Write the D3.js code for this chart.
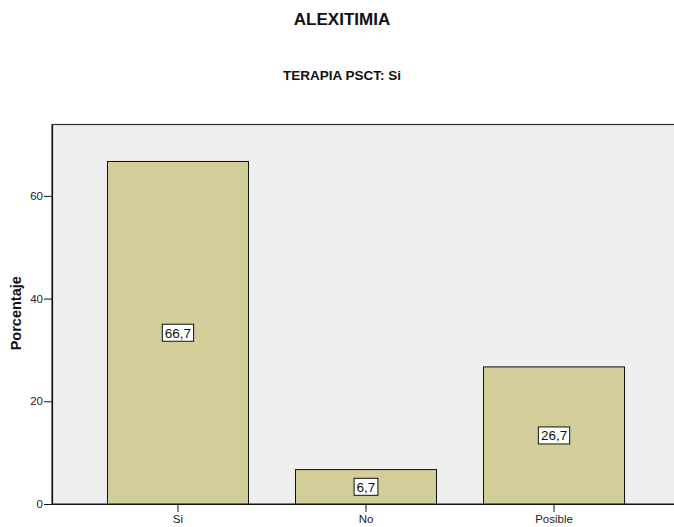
<!DOCTYPE html>
<html>
<head>
<meta charset="utf-8">
<script src="https://cdn.jsdelivr.net/npm/d3@7"></script>
<style>
  html, body { margin: 0; padding: 0; background: #fff; }
  svg { display: block; font-family: "Liberation Sans", Arial, sans-serif; }
</style>
</head>
<body>
<svg id="chart" width="674" height="527"></svg>
<script>
// Frequencies of ALEXITIMIA for patients with TERAPIA PSCT = Si
const categories = ["Si", "No", "Posible"];
const percentages = [66.7, 6.7, 26.7];
const valueLabels = ["66,7", "6,7", "26,7"];
const yTicks = [0, 20, 40, 60];

const svg = d3.select("#chart");
const plot = { left: 52, right: 680, top: 124.5, bottom: 504 };

const x = d3.scaleBand()
  .domain(categories)
  .range([plot.left, plot.right])
  .paddingInner(0.25)
  .paddingOuter(0.295);

const y = d3.scaleLinear()
  .domain([0, 73.9])
  .range([plot.bottom, plot.top]);

// Plot background and frame
svg.append("rect")
  .attr("x", plot.left).attr("y", plot.top)
  .attr("width", plot.right - plot.left).attr("height", plot.bottom - plot.top)
  .attr("fill", "#efefef")
  .attr("stroke", "#333").attr("stroke-width", 1.2);

// Bars
svg.append("g").selectAll("rect")
  .data(categories)
  .join("rect")
  .attr("x", d => x(d))
  .attr("y", (d, i) => y(percentages[i]))
  .attr("width", x.bandwidth())
  .attr("height", (d, i) => y(0) - y(percentages[i]))
  .attr("fill", "#d3ce99")
  .attr("stroke", "#111")
  .attr("stroke-width", 1);

// Y axis
const yAxis = svg.append("g")
  .attr("transform", `translate(${plot.left},0)`)
  .call(d3.axisLeft(y).tickValues(yTicks).tickSize(8).tickPadding(1).tickSizeOuter(0));
yAxis.select(".domain").attr("stroke", "#111").attr("stroke-width", 1.2);
yAxis.selectAll(".tick line").attr("stroke", "#111");
yAxis.selectAll(".tick text")
  .attr("font-size", 11.5).attr("fill", "#222")
  .attr("font-family", "Liberation Sans, Arial, sans-serif");

// X axis
const xAxis = svg.append("g")
  .attr("transform", `translate(0,${plot.bottom})`)
  .call(d3.axisBottom(x).tickSize(8).tickPadding(3).tickSizeOuter(0));
xAxis.select(".domain").attr("stroke", "#111").attr("stroke-width", 1.2);
xAxis.selectAll(".tick line").attr("stroke", "#111");
xAxis.selectAll(".tick text")
  .attr("font-size", 11.5).attr("fill", "#222")
  .attr("font-family", "Liberation Sans, Arial, sans-serif");

// Value labels in boxes at bar mid-height
const labels = svg.append("g").selectAll("g")
  .data(categories)
  .join("g")
  .attr("transform", (d, i) =>
    `translate(${x(d) + x.bandwidth() / 2},${y(percentages[i] / 2)})`);
labels.append("rect").attr("class", "box");
labels.append("text")
  .text((d, i) => valueLabels[i])
  .attr("text-anchor", "middle")
  .attr("dy", "0.36em")
  .attr("font-size", 13.5)
  .attr("fill", "#111");
labels.each(function () {
  const g = d3.select(this);
  const w = g.select("text").node().getComputedTextLength() + 5;
  const h = 17;
  g.select("rect")
    .attr("x", -w / 2).attr("y", -h / 2)
    .attr("width", w).attr("height", h)
    .attr("fill", "#fff").attr("stroke", "#111").attr("stroke-width", 1);
});

// Titles
svg.append("text")
  .attr("x", 342).attr("y", 25)
  .attr("text-anchor", "middle")
  .attr("font-size", 17).attr("font-weight", "bold").attr("fill", "#111")
  .text("ALEXITIMIA");

svg.append("text")
  .attr("x", 342).attr("y", 79.5)
  .attr("text-anchor", "middle")
  .attr("font-size", 13.5).attr("font-weight", "bold").attr("fill", "#111")
  .text("TERAPIA PSCT: Si");

svg.append("text")
  .attr("transform", `translate(21,${(plot.top + plot.bottom) / 2 - 1}) rotate(-90)`)
  .attr("text-anchor", "middle")
  .attr("font-size", 14.5).attr("font-weight", "bold").attr("fill", "#111")
  .text("Porcentaje");
</script>
</body>
</html>
